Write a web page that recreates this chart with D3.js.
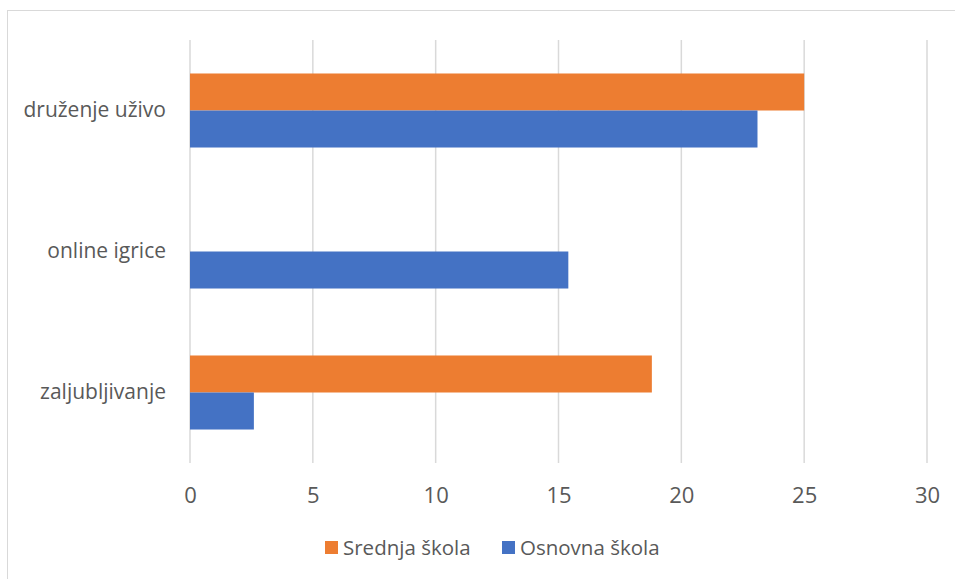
<!DOCTYPE html>
<html>
<head>
<meta charset="utf-8">
<script src="https://cdn.jsdelivr.net/npm/d3@7"></script>
<style>
  html, body { margin: 0; padding: 0; background: #fff; }
  svg { display: block; }
  text { font-family: "Open Sans", "Noto Sans", sans-serif; fill: #595959; }
</style>
</head>
<body>
<svg id="chart" width="955" height="579"></svg>
<script>
// Categories, top to bottom
const categories = ["druženje uživo", "online igrice", "zaljubljivanje"];
// Series names and values (same order as categories)
const seriesNames = ["Srednja škola", "Osnovna škola"];
const srednjaSkola = [25, 0, 18.8];
const osnovnaSkola = [23.1, 15.4, 2.6];
const seriesColors = ["#ED7D31", "#4472C4"];
const xTicks = [0, 5, 10, 15, 20, 25, 30];

const seriesValues = [srednjaSkola, osnovnaSkola];

const svg = d3.select("#chart");
const W = 955, H = 579;
const margin = { left: 190, right: 28, top: 40, bottom: 116 };

// Chart area frame
svg.append("rect")
  .attr("x", 7.5).attr("y", 10.5)
  .attr("width", W + 20).attr("height", H + 20)
  .attr("fill", "#fff")
  .attr("stroke", "#d9d9d9").attr("stroke-width", 1);

const x = d3.scaleLinear()
  .domain([0, 30])
  .range([margin.left, W - margin.right]);

const y = d3.scaleBand()
  .domain(categories)
  .range([margin.top, H - margin.bottom])
  .paddingInner(0.475).paddingOuter(0.2375);

const ySeries = d3.scaleBand()
  .domain(seriesNames)
  .range([0, y.bandwidth()]);

// Vertical gridlines
svg.append("g")
  .selectAll("line")
  .data(xTicks)
  .join("line")
  .attr("x1", d => x(d)).attr("x2", d => x(d))
  .attr("y1", margin.top).attr("y2", H - margin.bottom)
  .attr("stroke", "#d9d9d9").attr("stroke-width", 1.5);

// Bars
const rows = categories.map((c, i) => ({
  cat: c,
  vals: seriesNames.map((s, j) => ({ series: s, value: seriesValues[j][i], color: seriesColors[j] }))
}));

svg.append("g")
  .selectAll("g")
  .data(rows)
  .join("g")
  .attr("transform", d => `translate(0,${y(d.cat)})`)
  .selectAll("rect")
  .data(d => d.vals.filter(v => v.value > 0))
  .join("rect")
  .attr("x", x(0))
  .attr("y", d => ySeries(d.series))
  .attr("width", d => x(d.value) - x(0))
  .attr("height", ySeries.bandwidth())
  .attr("fill", d => d.color);

// X axis labels
const xAxis = d3.axisBottom(x).tickValues(xTicks).tickSize(0).tickPadding(0);
const gx = svg.append("g")
  .attr("transform", `translate(0,503)`)
  .call(xAxis);
gx.attr("font-size", null).attr("font-family", null);
gx.select(".domain").remove();
gx.selectAll("text")
  .attr("dy", "0")
  .style("font-size", "22px")
  .style("fill", "#595959");

// Category labels
const yAxis = d3.axisLeft(y).tickSize(0).tickPadding(0);
const gy = svg.append("g")
  .attr("transform", `translate(166,0)`)
  .call(yAxis);
gy.attr("font-size", null).attr("font-family", null);
gy.select(".domain").remove();
gy.selectAll("text")
  .attr("dy", "0.3em")
  .style("font-size", "21px")
  .style("fill", "#595959");

// Legend
const legendItems = [
  { name: seriesNames[0], color: seriesColors[0], x: 325 },
  { name: seriesNames[1], color: seriesColors[1], x: 502 }
];
const lg = svg.append("g").attr("transform", "translate(0,548)");
legendItems.forEach(it => {
  lg.append("rect")
    .attr("x", it.x).attr("y", -7)
    .attr("width", 13).attr("height", 13)
    .attr("fill", it.color);
  lg.append("text")
    .attr("x", it.x + 18).attr("y", 7)
    .style("font-size", "20.5px")
    .text(it.name);
});
</script>
</body>
</html>
